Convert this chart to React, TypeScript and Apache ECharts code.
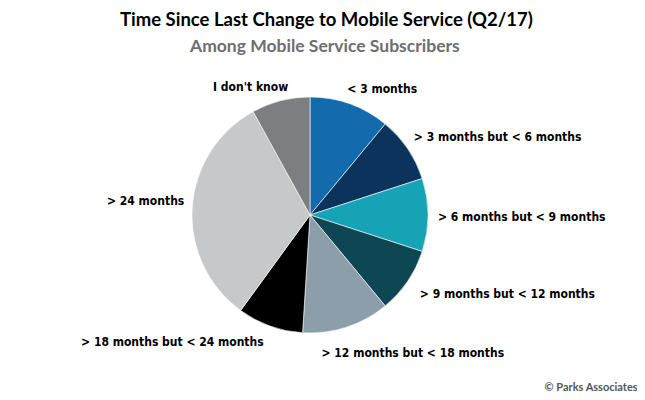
import React, { useEffect, useRef } from "react";
import * as echarts from "echarts";

const categories = [
  "< 3 months",
  "> 3 months but < 6 months",
  "> 6 months but < 9 months",
  "> 9 months but < 12 months",
  "> 12 months but < 18 months",
  "> 18 months but < 24 months",
  "> 24 months",
  "I don't know",
];
const values = [11, 9, 10, 9, 12, 9, 32, 8];
const colors = ["#136aad", "#0c335c", "#16a3b5", "#0f4653", "#8b9ea9", "#000000", "#c7c8ca", "#7d7e82"];
// small nudges of the library-placed labels
const labelNudges: [number, number][] = [
  [-6, -6],
  [-2, -6],
  [0, 2],
  [4, 7],
  [-28, 16],
  [-3, 7],
  [2, -6],
  [10, -4],
];

export default function App() {
  const ref = useRef<HTMLDivElement>(null);
  useEffect(() => {
    const chart = echarts.init(ref.current!, null, { renderer: "svg" });
    chart.setOption({
      animation: false,
      backgroundColor: "#ffffff",
      title: [
        {
          text: "Time Since Last Change to Mobile Service (Q2/17)",
          left: 107,
          top: -4,
          textStyle: { fontFamily: "Lato", fontWeight: "bold", fontSize: 18.5, color: "#000" },
        },
        {
          text: "Among Mobile Service Subscribers",
          left: 177,
          top: 23,
          textStyle: { fontFamily: "Lato", fontWeight: "bold", fontSize: 17.5, color: "#6d6e70" },
        },
        {
          text: "© Parks Associates",
          right: 10,
          top: 368,
          textStyle: { fontFamily: "Lato", fontWeight: "bold", fontSize: 11, color: "#555" },
        },
      ],
      series: [
        {
          type: "pie",
          center: [302, 207],
          radius: 118,
          startAngle: 90,
          clockwise: true,
          data: categories.map((name, i) => ({ name, value: values[i], itemStyle: { color: colors[i] } })),
          itemStyle: { borderColor: "#ffffff", borderWidth: 0.6 },
          label: {
            show: true,
            position: "outside",
            fontFamily: "DejaVu Sans Condensed",
            fontWeight: "bold",
            fontSize: 12,
            color: "#000",
            distanceToLabelLine: 0,
          },
          labelLine: { show: false, length: 10, length2: 0 },
          labelLayout: (p: any) => ({ dx: labelNudges[p.dataIndex][0], dy: labelNudges[p.dataIndex][1] }),
          emphasis: { disabled: true },
        },
      ],
    });
    return () => chart.dispose();
  }, []);
  return <div ref={ref} style={{ width: 645, height: 400 }} />;
}
